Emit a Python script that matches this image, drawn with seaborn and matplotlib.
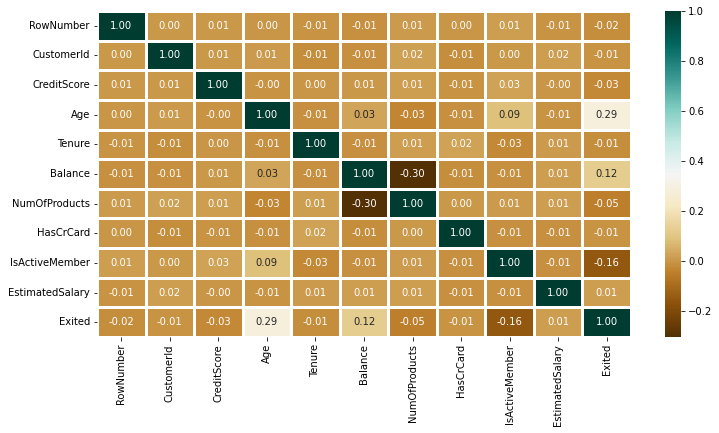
import matplotlib
matplotlib.use('Agg')
import matplotlib.pyplot as plt
import pandas as pd
import seaborn as sns

columns = ['RowNumber', 'CustomerId', 'CreditScore', 'Age', 'Tenure', 'Balance',
           'NumOfProducts', 'HasCrCard', 'IsActiveMember', 'EstimatedSalary', 'Exited']

row_number = [1.00, 0.004, 0.006, 0.001, -0.006, -0.009, 0.007, 0.001, 0.012, -0.006, -0.017]
customer_id = [0.004, 1.00, 0.005, 0.009, -0.015, -0.012, 0.017, -0.014, 0.002, 0.016, -0.006]
credit_score = [0.006, 0.005, 1.00, -0.004, 0.001, 0.006, 0.012, -0.005, 0.026, -0.001, -0.027]
age = [0.001, 0.009, -0.004, 1.00, -0.010, 0.028, -0.031, -0.012, 0.085, -0.007, 0.286]
tenure = [-0.006, -0.015, 0.001, -0.010, 1.00, -0.012, 0.013, 0.023, -0.028, 0.008, -0.014]
balance = [-0.009, -0.012, 0.006, 0.028, -0.012, 1.00, -0.304, -0.015, -0.010, 0.013, 0.119]
num_products = [0.007, 0.017, 0.012, -0.031, 0.013, -0.304, 1.00, 0.003, 0.010, 0.014, -0.048]
has_card = [0.001, -0.014, -0.005, -0.012, 0.023, -0.015, 0.003, 1.00, -0.012, -0.010, -0.007]
is_active = [0.012, 0.002, 0.026, 0.085, -0.028, -0.010, 0.010, -0.012, 1.00, -0.011, -0.156]
salary = [-0.006, 0.016, -0.001, -0.007, 0.008, 0.013, 0.014, -0.010, -0.011, 1.00, 0.012]
exited = [-0.017, -0.006, -0.027, 0.286, -0.014, 0.119, -0.048, -0.007, -0.156, 0.012, 1.00]


def main():
    corr = pd.DataFrame(
        [row_number, customer_id, credit_score, age, tenure, balance,
         num_products, has_card, is_active, salary, exited],
        index=columns, columns=columns
    )

    # figure is sized in pixels at 72 dpi
    W, H = 719, 433
    fig = plt.figure(figsize=(W / 72, H / 72), dpi=72)
    ax = fig.add_axes([97 / W, 1 - 337 / H, 534 / W, 326 / H])
    cbar_ax = fig.add_axes([665 / W, 1 - 337 / H, 16 / W, 326 / H])

    sns.heatmap(corr, annot=True, fmt='.2f', cmap='BrBG', linewidths=2.5,
                ax=ax, cbar_ax=cbar_ax)
    ax.tick_params(axis='y', labelrotation=0)
    ax.tick_params(axis='x', labelrotation=90)

    fig.savefig('out.png', dpi=72)


if __name__ == "__main__":
    main()
